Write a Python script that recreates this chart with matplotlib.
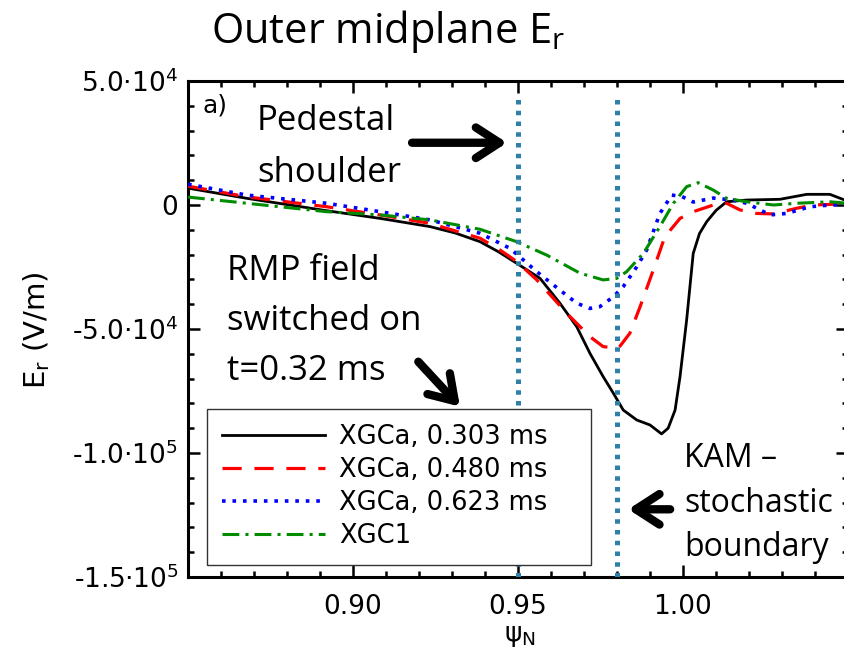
import matplotlib
matplotlib.use("Agg")
import matplotlib.pyplot as plt
from matplotlib.patches import ArrowStyle

# ---------------- data ----------------
x_black = [0.850, 0.8678, 0.8920, 0.9082, 0.9233, 0.9310, 0.9385, 0.9440, 0.9496, 0.9567,
           0.9627, 0.9678, 0.9718, 0.9758, 0.9789, 0.9819, 0.9860, 0.9900, 0.9935, 0.9955,
           0.9976, 0.9991, 1.0011, 1.0031, 1.0050, 1.0072, 1.0100, 1.0132, 1.0193,
           1.0294, 1.0375, 1.0445, 1.0500]
y_black = [6.8e3, 2.7e3, -2.3e3, -5.4e3, -8.7e3, -1.13e4, -1.48e4, -1.88e4, -2.35e4, -2.96e4,
           -3.96e4, -4.91e4, -5.98e4, -6.92e4, -7.59e4, -8.27e4, -8.67e4, -8.87e4, -9.23e4, -9.0e4,
           -8.27e4, -6.92e4, -4.64e4, -1.95e4, -1.15e4, -6.7e3, -2.2e3, 1.3e3, 2.0e3,
           2.3e3, 4.3e3, 4.3e3, 1.5e3]

x_red = [0.850, 0.8678, 0.8920, 0.9082, 0.9233, 0.9385, 0.9445, 0.9496, 0.9557,
         0.9648, 0.9718, 0.9758, 0.9804, 0.9839, 0.9870, 0.9910, 0.9945, 0.9991,
         1.0031, 1.0092, 1.0132, 1.0173, 1.0223, 1.0274, 1.0345, 1.0395, 1.0500]
y_red = [7.6e3, 3.3e3, -0.7e3, -4.0e3, -7.4e3, -1.34e4, -1.81e4, -2.28e4, -3.02e4,
         -4.37e4, -5.31e4, -5.71e4, -5.78e4, -5.17e4, -4.10e4, -2.62e4, -1.28e4, -5.4e3,
         -2.7e3, 0.0, 0.7e3, -2.0e3, -3.4e3, -3.6e3, -1.3e3, 0.0, 0.5e3]

x_blue = [0.850, 0.8678, 0.8920, 0.9082, 0.9233, 0.9385, 0.9476, 0.9557, 0.9627,
          0.9678, 0.9718, 0.9748, 0.9789, 0.9819, 0.9860, 0.9890, 0.9930, 0.9966,
          0.9997, 1.0031, 1.0092, 1.0152, 1.0193, 1.0264, 1.0314, 1.0385, 1.0445, 1.0500]
y_blue = [8.4e3, 4.0e3, 0.7e3, -2.7e3, -6.0e3, -1.14e4, -1.75e4, -2.69e4, -3.43e4,
          -3.96e4, -4.17e4, -4.10e4, -3.70e4, -3.29e4, -2.49e4, -1.81e4, -3.4e3, 4.0e3,
          3.4e3, 1.2e3, 2.8e3, 2.0e3, 0.7e3, -4.0e3, -3.4e3, -0.7e3, 0.0, 0.0]

x_green = [0.850, 0.8678, 0.8920, 0.9082, 0.9233, 0.9385, 0.9496, 0.9587, 0.9688,
           0.9758, 0.9799, 0.9829, 0.9880, 0.9930, 0.9971, 1.0011, 1.0046, 1.0092,
           1.0132, 1.0193, 1.0274, 1.0345, 1.0445, 1.0500]
y_green = [3.2e3, 0.7e3, -2.7e3, -4.0e3, -6.0e3, -9.8e3, -1.48e4, -2.02e4, -2.75e4,
           -3.02e4, -2.96e4, -2.69e4, -1.95e4, -8.7e3, 0.7e3, 7.4e3, 9.0e3, 6.0e3,
           2.7e3, 1.3e3, 0.0, 0.7e3, 1.3e3, 0.7e3]

series_labels = ["XGCa, 0.303 ms", "XGCa, 0.480 ms", "XGCa, 0.623 ms", "XGC1"]

boundary_x = [0.95, 0.98]

x_ticks = [0.90, 0.95, 1.00]
x_ticklabels = ["0.90", "0.95", "1.00"]
y_ticks = [5e4, 0, -5e4, -1e5, -1.5e5]
y_ticklabels = ["5.0·10$^{4}$", "0", "-5.0·10$^{4}$", "-1.0·10$^{5}$", "-1.5·10$^{5}$"]

title_text = "Outer midplane E$_\\mathregular{r}$"
xlabel_text = "ψ$_\\mathregular{N}$"
ylabel_text = "E$_\\mathregular{r}$ (V/m)"

# ---------------- figure ----------------
W, H = 844, 663
fig = plt.figure(figsize=(W / 100, H / 100), dpi=100)
ax = fig.add_axes([188 / W, (H - 577) / H, 660 / W, 496 / H])

ax.plot(x_black, y_black, color="black", lw=2.0, label=series_labels[0], zorder=3)
ax.plot(x_red, y_red, color="#ff0000", lw=2.3, linestyle=(0, (6, 4)),
        label=series_labels[1], zorder=3)
ax.plot(x_blue, y_blue, color="#0000ff", lw=2.6, linestyle=(0, (1, 1.9)),
        label=series_labels[2], zorder=3)
ax.plot(x_green, y_green, color="#008c00", lw=2.2, linestyle=(0, (5.5, 2, 1, 2)),
        label=series_labels[3], zorder=3)

for bx in boundary_x:
    ax.axvline(bx, ymin=0, ymax=0.972, color="#2f80a8", lw=3.6,
               linestyle=(0, (0.9, 1.25)), zorder=4)

ax.set_xlim(0.85, 1.05)
ax.set_ylim(-1.5e5, 5e4)
ax.set_xticks(x_ticks)
ax.set_xticklabels(x_ticklabels)
ax.set_xticks([0.85 + 0.01 * i for i in range(21)], minor=True)
ax.set_yticks(y_ticks)
ax.set_yticklabels(y_ticklabels)
ax.set_yticks([-1.5e5 + 1e4 * i for i in range(21)], minor=True)

ax.tick_params(which="both", direction="in", top=True, right=True, width=1.8)
ax.tick_params(which="major", length=8.5)
ax.tick_params(which="minor", length=4.3)
ax.tick_params(axis="x", which="major", labelsize=19, pad=12)
ax.tick_params(axis="y", which="major", labelsize=19, pad=7)
for s in ax.spines.values():
    s.set_linewidth(2.2)

ax.set_xlabel(xlabel_text, fontsize=19)
ax.xaxis.set_label_coords(0.503, -0.093)
ax.set_ylabel(ylabel_text, fontsize=21)
ax.yaxis.set_label_coords(-0.206, 0.498)

fig.text(388 / W, (H - 43) / H, title_text, family="Open Sans", fontsize=30,
         ha="center", va="baseline")

ax.text(0.0227, 0.9355, "a)", transform=ax.transAxes, fontsize=18, va="baseline")

leg = ax.legend(loc="upper left", bbox_to_anchor=(0.0288, 0.0565, 0.5818, 0.2823),
                mode="expand", borderaxespad=0,
                fontsize=18.5, handlelength=4.0, handletextpad=0.55, labelspacing=0.27,
                borderpad=0.6, fancybox=False, framealpha=1, edgecolor="#333333")
leg.get_frame().set_linewidth(1.0)
leg.set_zorder(5)

notes = [("Pedestal", 0.1045, 0.9012, 25), ("shoulder", 0.1045, 0.7964, 25),
         ("RMP field", 0.0591, 0.5988, 25), ("switched on", 0.0591, 0.4980, 25),
         ("t=0.32 ms", 0.0591, 0.3972, 25),
         ("KAM –", 0.7515, 0.2218, 23), ("stochastic", 0.7515, 0.1310, 23),
         ("boundary", 0.7515, 0.0423, 23)]
for txt, tx, ty, fs in notes:
    ax.text(tx, ty, txt, transform=ax.transAxes, family="Open Sans", fontsize=fs,
            ha="left", va="baseline", zorder=6)

arrows = [((0.9179, 2.51e4), (0.9467, 2.51e4)),
          ((0.9198, -6.32e4), (0.9324, -8.13e4)),
          ((0.9961, -1.227e5), (0.9834, -1.227e5))]
for tail, tip in arrows:
    ax.annotate("", xy=tip, xytext=tail,
                arrowprops=dict(arrowstyle=ArrowStyle("->", head_length=17, head_width=11),
                                mutation_scale=1, lw=6, color="black",
                                shrinkA=0, shrinkB=0, capstyle="round", joinstyle="round"),
                zorder=6)

fig.savefig("out.png", dpi=100)
